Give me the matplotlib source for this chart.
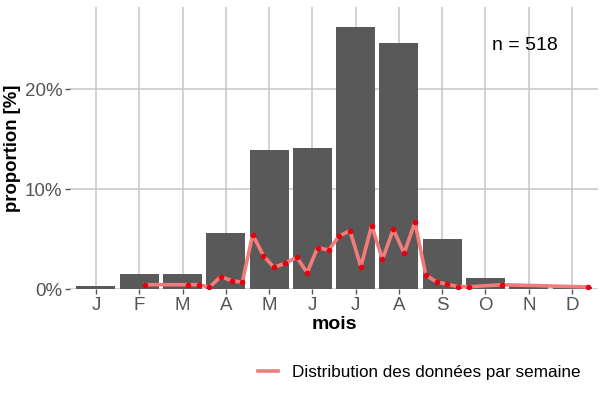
import numpy as np
import matplotlib
matplotlib.use("Agg")
import matplotlib.pyplot as plt
from matplotlib.ticker import FuncFormatter

plt.rcParams['font.family'] = ['Liberation Sans', 'DejaVu Sans']

# monthly proportions (%)
months = ["J", "F", "M", "A", "M", "J", "J", "A", "S", "O", "N", "D"]
month_pct = [0.3, 1.5, 1.5, 5.6, 13.9, 14.1, 26.2, 24.6, 5.0, 1.1, 0.3, 0.2]

# weekly distribution (position in month units, proportion %)
week_pos = [2.13, 3.13, 3.38, 3.62, 3.88, 4.14, 4.38, 4.62, 4.87, 5.11,
            5.37, 5.64, 5.88, 6.12, 6.38, 6.62, 6.87, 7.12, 7.37, 7.62,
            7.87, 8.12, 8.37, 8.62, 8.87, 9.12, 9.37, 9.63, 10.38, 12.38]
week_pct = [0.43, 0.43, 0.43, 0.17, 1.23, 0.83, 0.67, 5.43, 3.33, 2.17,
            2.57, 3.17, 1.63, 4.13, 3.9, 5.3, 5.83, 2.23, 6.33, 2.97,
            5.97, 3.57, 6.7, 1.4, 0.7, 0.47, 0.23, 0.23, 0.43, 0.2]

n_total = 518

fig = plt.figure(figsize=(6, 4), dpi=100)
ax = fig.add_axes([70 / 600, 111 / 400, 528 / 600, 282 / 400])

x = np.arange(1, len(months) + 1)
ax.bar(x, month_pct, width=0.9, color="#595959", zorder=2)
ax.plot(week_pos, week_pct, color="#F27C79", lw=2.6, zorder=3,
        label="Distribution des données par semaine")
ax.plot(week_pos, week_pct, "o", color="#E3000F", ms=3.0, zorder=4)

ax.set_xlim(0.4, 12.6)
ax.set_ylim(0, 28.2)
ax.set_xticks(x)
ax.set_xticklabels(months)
ax.set_yticks([0, 10, 20])
ax.yaxis.set_major_formatter(FuncFormatter(lambda v, p: f"{v:.0f}%"))

ax.grid(True, color="#C6C6C6", lw=1.1, zorder=0)
ax.set_axisbelow(True)
for s in ax.spines.values():
    s.set_visible(False)
ax.tick_params(axis="both", colors="#555555", labelsize=13.5, length=3.5,
               width=1.0, pad=2)

ax.set_xlabel("mois", fontsize=14, fontweight="bold", labelpad=2)
ax.set_ylabel("proportion [%]", fontsize=13.3, fontweight="bold", labelpad=3)

ax.text(0.924, 0.865, f"n = {n_total}", transform=ax.transAxes, fontsize=14,
        ha="right", va="center")

fig.legend(loc="center right", bbox_to_anchor=(596 / 600, 28 / 400),
           frameon=False, fontsize=12.3, handlelength=1.2, handletextpad=0.8)

fig.savefig("out.png", dpi=100)
